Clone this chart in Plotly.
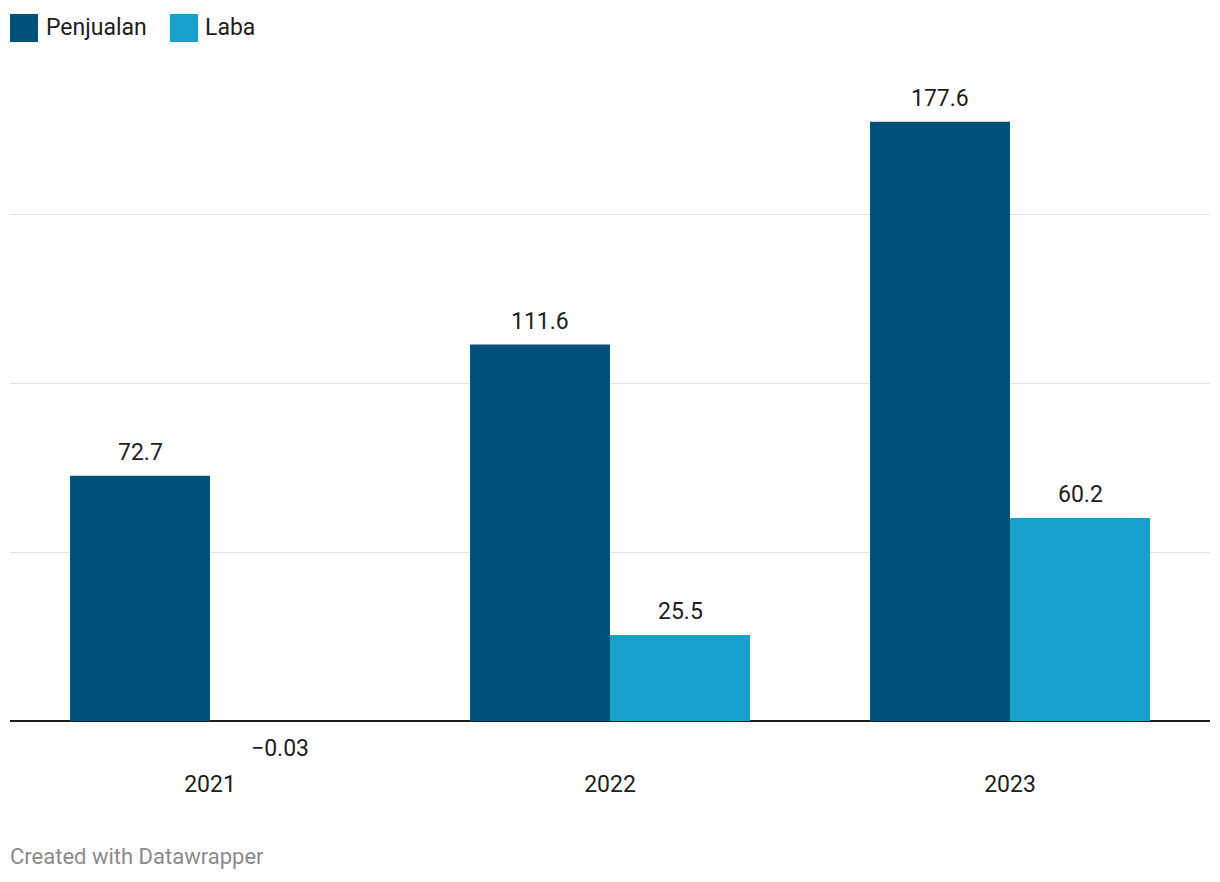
import plotly.graph_objects as go

years = ["2021", "2022", "2023"]
penjualan = [72.7, 111.6, 177.6]
laba = [-0.03, 25.5, 60.2]
series_names = ["Penjualan", "Laba"]
colors = ["#00527a", "#18a1cd"]

W, H = 1220, 882
OFF = 8  # page body margin of the browser
# target plot area in page pixels: x 10..1210, y 80..721
ML, MR, MT, MB = 10 - OFF, W - 1210 + OFF, 80 - OFF, H - 721 + OFF
FONT = "Roboto"
TXT = "#1d1d1d"

def px_x(x):
    return (x - OFF - ML) / (W - ML - MR)

def px_y(y):
    return (H - MB - (y - OFF)) / (H - MT - MB)

def fmt(v):
    s = f"{v:g}"
    return s.replace("-", "\u2212")

xs = list(range(len(years)))
fig = go.Figure()
for name, vals, col, off in [(series_names[0], penjualan, colors[0], -0.35),
                             (series_names[1], laba, colors[1], 0.0)]:
    fig.add_trace(go.Bar(x=xs, y=vals, name=name, marker=dict(color=col, line=dict(width=0)),
                         width=0.35, offset=off, showlegend=False, cliponaxis=False))

annotations = []
for vals, off in [(penjualan, -0.175), (laba, 0.175)]:
    for i, v in enumerate(vals):
        annotations.append(dict(x=i + off, y=v if v >= 0 else 0, xref="x", yref="y",
                                text=fmt(v), showarrow=False,
                                yanchor="bottom" if v >= 0 else "top",
                                yshift=8 if v >= 0 else -12,
                                font=dict(family=FONT, size=23, color=TXT)))

# legend (manual, large swatches)
shapes = []
leg = [(10, 44, series_names[0], colors[0]), (170, 203, series_names[1], colors[1])]
for sx, tx, name, col in leg:
    shapes.append(dict(type="rect", xref="paper", yref="paper",
                       x0=px_x(sx), x1=px_x(sx + 28), y0=px_y(42), y1=px_y(14),
                       fillcolor=col, line=dict(width=0)))
    annotations.append(dict(x=px_x(tx), y=px_y(27), xref="paper", yref="paper",
                            xanchor="left", yanchor="middle", text=name, showarrow=False,
                            font=dict(family=FONT, size=23, color=TXT)))

annotations.append(dict(x=px_x(8), y=px_y(856), xref="paper", yref="paper",
                        xanchor="left", yanchor="middle", text="Created with Datawrapper",
                        showarrow=False, font=dict(family=FONT, size=22, color="#8a8a8a")))

fig.update_layout(
    width=W, height=H,
    margin=dict(l=ML, r=MR, t=MT, b=MB, pad=0),
    paper_bgcolor="white", plot_bgcolor="white",
    barmode="group",
    font=dict(family=FONT, size=23, color=TXT),
    xaxis=dict(range=[-0.5, 2.5], tickvals=xs, ticktext=years, showgrid=False,
               zeroline=False, showline=False, ticks="", ticklabelstandoff=47,
               tickfont=dict(family=FONT, size=23, color=TXT)),
    yaxis=dict(range=[0, 190], tickvals=[0, 50, 100, 150], showticklabels=False,
               showgrid=True, gridcolor="#e3e3e3", gridwidth=1,
               zeroline=True, zerolinecolor="#1d1d1d", zerolinewidth=2, showline=False),
    annotations=annotations, shapes=shapes,
)
fig.write_html("out.html")
